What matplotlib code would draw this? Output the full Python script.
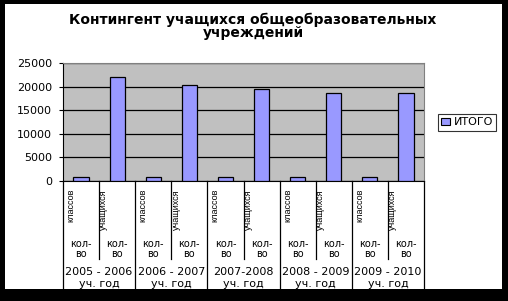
import matplotlib.pyplot as plt
import matplotlib.transforms as mtransforms
from matplotlib.patches import Rectangle, Patch

# data
years = ["2005 - 2006", "2006 - 2007", "2007-2008", "2008 - 2009", "2009 - 2010"]
sub_labels = ["классов", "учащихся"]
classes = [900, 880, 860, 840, 830]
students = [21970, 20270, 19430, 18580, 18580]

values = []
for c, s in zip(classes, students):
    values += [c, s]
x = list(range(len(values)))

W, H = 508, 301
fig = plt.figure(figsize=(W / 100, H / 100), dpi=100, facecolor="black")
# white chart area inside the black frame
fig.patches.append(Rectangle((5 / W, 12 / H), (502 - 5) / W, (297 - 12) / H,
                             transform=fig.transFigure, facecolor="white",
                             edgecolor="none", zorder=-10))

def fy(py):
    return (H - py) / H

ax = fig.add_axes([63 / W, fy(181), (424 - 63) / W, (181 - 63) / H])
ax.set_facecolor("#c0c0c0")
ax.bar(x, values, width=0.42, color="#9999ff", edgecolor="black",
       linewidth=0.9, zorder=3, label="ИТОГО")
ax.set_xlim(-0.5, len(values) - 0.5)
ax.set_ylim(0, 25000)
ax.set_yticks(range(0, 25001, 5000))
ax.tick_params(axis="y", labelsize=8, length=3, width=0.8, pad=5)
ax.set_xticks([])
ax.yaxis.grid(True, color="black", linewidth=0.9)
ax.set_axisbelow(True)
for side in ("top", "right"):
    ax.spines[side].set_color("#808080")
ax.spines["left"].set_color("black")
ax.spines["bottom"].set_color("black")

# category labels below the axis
tr = mtransforms.blended_transform_factory(ax.transData, fig.transFigure)
for i in range(len(values)):
    sub = sub_labels[i % 2]
    off = -0.28 if i % 2 == 0 else -0.37
    ax.text(i + off, fy(189), sub, rotation=90, ha="center", va="top",
            fontsize=6.5, family="Liberation Sans", transform=tr)
    ax.text(i, fy(244), "кол-", ha="center", va="center", fontsize=7, transform=tr)
    ax.text(i, fy(254), "во", ha="center", va="center", fontsize=7, transform=tr)
for i in range(len(values) + 1):
    b = i - 0.5
    bottom = fy(288) if i % 2 == 0 else fy(259)
    ax.plot([b, b], [fy(181), bottom], color="black", linewidth=0.9,
            transform=tr, clip_on=False)
for g, yr in enumerate(years):
    cx = 2 * g + 0.5
    ax.text(cx, fy(272), yr, ha="center", va="center", fontsize=8, transform=tr)
    ax.text(cx, fy(284), "уч. год", ha="center", va="center", fontsize=8, transform=tr)

fig.text(253 / W, fy(20), "Контингент учащихся общеобразовательных",
         ha="center", va="center", fontsize=10, fontweight="bold")
fig.text(253 / W, fy(33), "учреждений", ha="center", va="center",
         fontsize=10, fontweight="bold")

leg = fig.legend(handles=[Patch(facecolor="#9999ff", edgecolor="black", linewidth=0.8)],
                 labels=["ИТОГО"], loc="center", bbox_to_anchor=(467 / W, fy(122.5)),
                 fontsize=8, frameon=True, fancybox=False, handlelength=0.8,
                 handleheight=0.6, handletextpad=0.3, borderpad=0.3, borderaxespad=0)
leg.get_frame().set_edgecolor("black")
leg.get_frame().set_linewidth(0.8)

fig.savefig("out.png", dpi=100, facecolor="black")
